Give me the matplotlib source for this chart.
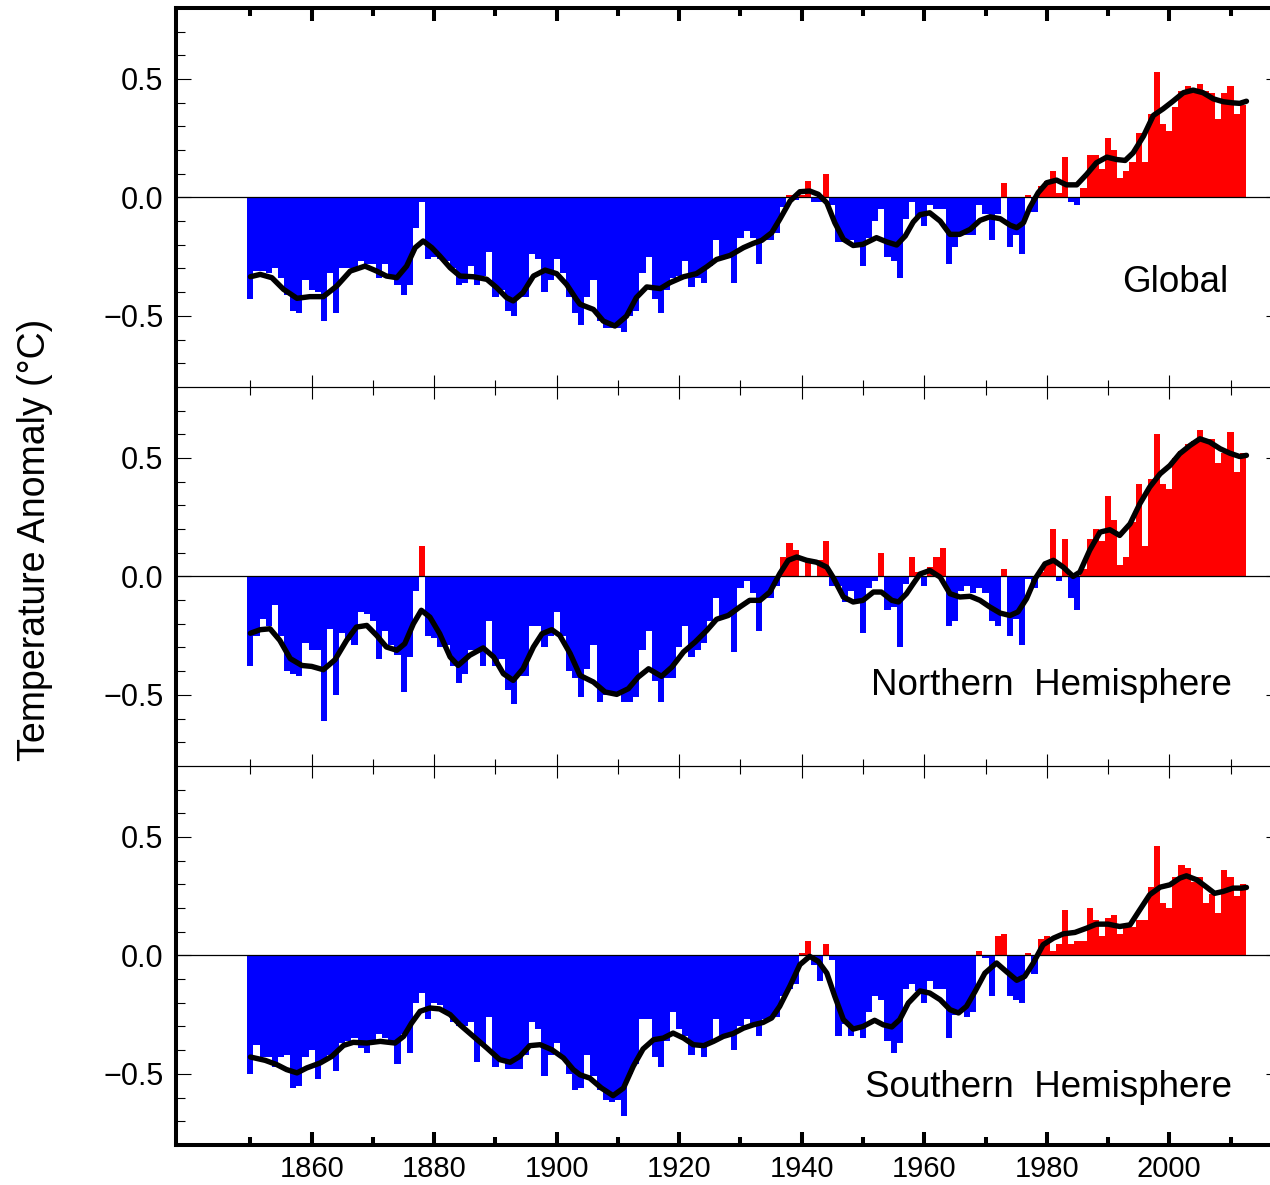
import numpy as np
import matplotlib
matplotlib.use("Agg")
import matplotlib.pyplot as plt
from matplotlib.ticker import FixedLocator

# ---------------- data ----------------
years = np.arange(1850, 2013)

global_anom = [
    -0.43, -0.31, -0.31, -0.32, -0.30, -0.34, -0.41, -0.48, -0.49, -0.35,
    -0.39, -0.40, -0.52, -0.32, -0.49, -0.30, -0.30, -0.31, -0.27, -0.28,
    -0.28, -0.34, -0.28, -0.33, -0.37, -0.41, -0.37, -0.13, -0.02, -0.26,
    -0.25, -0.26, -0.27, -0.30, -0.37, -0.36, -0.29, -0.37, -0.33, -0.23,
    -0.42, -0.39, -0.48, -0.50, -0.42, -0.42, -0.24, -0.26, -0.40, -0.35,
    -0.26, -0.32, -0.42, -0.49, -0.54, -0.42, -0.35, -0.52, -0.55, -0.55,
    -0.55, -0.57, -0.50, -0.48, -0.32, -0.25, -0.43, -0.49, -0.39, -0.34,
    -0.33, -0.27, -0.38, -0.34, -0.36, -0.29, -0.18, -0.25, -0.25, -0.36,
    -0.17, -0.14, -0.17, -0.28, -0.18, -0.18, -0.15, -0.04, 0.01, -0.01,
    0.01, 0.07, -0.02, -0.02, 0.10, -0.03, -0.19, -0.19, -0.18, -0.20,
    -0.29, -0.17, -0.10, -0.05, -0.25, -0.27, -0.34, -0.09, -0.02, -0.08,
    -0.12, -0.03, -0.05, -0.05, -0.28, -0.21, -0.16, -0.16, -0.16, -0.03,
    -0.07, -0.18, -0.07, 0.06, -0.21, -0.16, -0.24, 0.01, -0.06, 0.05,
    0.07, 0.11, 0.02, 0.17, -0.02, -0.03, 0.04, 0.18, 0.18, 0.12,
    0.25, 0.20, 0.08, 0.11, 0.15, 0.27, 0.15, 0.35, 0.53, 0.31,
    0.28, 0.38, 0.45, 0.47, 0.44, 0.48, 0.45, 0.44, 0.33, 0.44,
    0.47, 0.35, 0.39,
]

nh_anom = [
    -0.38, -0.25, -0.18, -0.21, -0.12, -0.25, -0.40, -0.41, -0.42, -0.28,
    -0.31, -0.31, -0.61, -0.22, -0.50, -0.24, -0.27, -0.29, -0.15, -0.16,
    -0.19, -0.35, -0.23, -0.29, -0.33, -0.49, -0.34, -0.06, 0.13, -0.25,
    -0.26, -0.30, -0.29, -0.38, -0.45, -0.41, -0.31, -0.31, -0.38, -0.19,
    -0.38, -0.35, -0.48, -0.54, -0.42, -0.42, -0.21, -0.21, -0.30, -0.25,
    -0.15, -0.25, -0.40, -0.43, -0.51, -0.39, -0.29, -0.53, -0.50, -0.50,
    -0.50, -0.53, -0.53, -0.51, -0.31, -0.23, -0.44, -0.53, -0.43, -0.43,
    -0.30, -0.21, -0.34, -0.31, -0.28, -0.19, -0.09, -0.17, -0.17, -0.32,
    -0.05, -0.02, -0.07, -0.23, -0.09, -0.09, -0.04, 0.08, 0.14, 0.11,
    0.00, 0.07, 0.00, 0.07, 0.15, -0.04, -0.04, -0.11, -0.06, -0.11,
    -0.24, -0.05, -0.02, 0.10, -0.14, -0.13, -0.30, -0.03, 0.08, 0.02,
    -0.04, 0.04, 0.08, 0.12, -0.21, -0.19, -0.06, -0.04, -0.07, -0.05,
    -0.07, -0.19, -0.21, 0.03, -0.25, -0.18, -0.29, -0.01, -0.05, 0.02,
    0.06, 0.20, -0.02, 0.16, -0.09, -0.14, 0.03, 0.16, 0.20, 0.15,
    0.34, 0.24, 0.05, 0.08, 0.23, 0.39, 0.13, 0.41, 0.60, 0.39,
    0.37, 0.50, 0.53, 0.56, 0.57, 0.62, 0.58, 0.58, 0.48, 0.52,
    0.61, 0.44, 0.52,
]

sh_anom = [
    -0.50, -0.38, -0.43, -0.43, -0.47, -0.43, -0.42, -0.56, -0.55, -0.43,
    -0.40, -0.52, -0.44, -0.42, -0.49, -0.37, -0.36, -0.35, -0.39, -0.41,
    -0.37, -0.33, -0.35, -0.36, -0.46, -0.33, -0.41, -0.20, -0.16, -0.27,
    -0.20, -0.21, -0.24, -0.28, -0.30, -0.30, -0.28, -0.45, -0.38, -0.26,
    -0.47, -0.45, -0.48, -0.48, -0.48, -0.42, -0.28, -0.31, -0.51, -0.42,
    -0.37, -0.43, -0.50, -0.57, -0.56, -0.42, -0.51, -0.57, -0.61, -0.62,
    -0.61, -0.68, -0.50, -0.46, -0.27, -0.27, -0.43, -0.47, -0.36, -0.24,
    -0.31, -0.34, -0.42, -0.38, -0.43, -0.37, -0.27, -0.35, -0.34, -0.40,
    -0.30, -0.27, -0.29, -0.34, -0.27, -0.27, -0.26, -0.17, -0.14, -0.12,
    0.01, 0.06, -0.04, -0.11, 0.05, -0.02, -0.34, -0.29, -0.34, -0.31,
    -0.35, -0.24, -0.17, -0.19, -0.36, -0.41, -0.37, -0.14, -0.12, -0.15,
    -0.20, -0.11, -0.14, -0.14, -0.35, -0.25, -0.23, -0.26, -0.24, 0.02,
    -0.01, -0.17, 0.08, 0.09, -0.17, -0.19, -0.20, 0.01, -0.08, 0.07,
    0.08, 0.02, 0.05, 0.19, 0.05, 0.06, 0.06, 0.20, 0.15, 0.08,
    0.16, 0.17, 0.09, 0.12, 0.12, 0.15, 0.15, 0.29, 0.46, 0.22,
    0.20, 0.33, 0.38, 0.37, 0.31, 0.33, 0.22, 0.26, 0.18, 0.36,
    0.33, 0.25, 0.30,
]

# smoothed curves
global_smooth_years = [
    1850.0, 1851.6, 1853.5, 1855.4, 1857.6, 1859.7, 1861.9, 1864.1, 1866.3, 1868.7,
    1870.6, 1872.2, 1873.9, 1875.5, 1876.9, 1878.2, 1879.6, 1880.9, 1882.6, 1884.2,
    1886.4, 1888.6, 1890.2, 1891.8, 1892.9, 1894.5, 1896.2, 1898.1, 1900.0, 1901.6,
    1903.2, 1903.8, 1906.0, 1907.6, 1909.5, 1911.4, 1913.0, 1914.7, 1916.9, 1918.5,
    1920.7, 1922.8, 1924.5, 1926.1, 1928.3, 1930.5, 1932.1, 1933.5, 1935.1, 1936.4,
    1938.1, 1939.7, 1941.3, 1942.7, 1944.1, 1945.4, 1946.8, 1948.4, 1950.0, 1952.2,
    1953.9, 1955.5, 1956.9, 1958.2, 1959.3, 1960.9, 1962.6, 1964.2, 1965.8, 1967.5,
    1969.1, 1970.7, 1972.4, 1974.0, 1975.1, 1976.2, 1977.2, 1978.6, 1980.0, 1981.6,
    1983.2, 1984.9, 1986.5, 1988.1, 1989.8, 1991.4, 1992.8, 1994.1, 1995.8, 1997.4,
    1999.0, 2000.6, 2002.3, 2003.9, 2005.5, 2007.2, 2008.8, 2010.4, 2011.5, 2012.6,
]
global_smooth = [
    -0.335, -0.325, -0.339, -0.388, -0.426, -0.419, -0.419, -0.374, -0.311, -0.290,
    -0.311, -0.332, -0.339, -0.290, -0.212, -0.184, -0.212, -0.247, -0.297, -0.332,
    -0.335, -0.346, -0.381, -0.423, -0.437, -0.402, -0.332, -0.307, -0.322, -0.367,
    -0.430, -0.451, -0.473, -0.522, -0.543, -0.501, -0.423, -0.378, -0.385, -0.360,
    -0.335, -0.322, -0.293, -0.262, -0.245, -0.212, -0.194, -0.181, -0.149, -0.093,
    -0.015, 0.024, 0.027, 0.013, -0.023, -0.107, -0.177, -0.203, -0.198, -0.170,
    -0.188, -0.201, -0.163, -0.104, -0.073, -0.065, -0.100, -0.156, -0.156, -0.135,
    -0.097, -0.082, -0.090, -0.117, -0.128, -0.107, -0.044, 0.020, 0.062, 0.073,
    0.053, 0.053, 0.097, 0.146, 0.170, 0.160, 0.156, 0.188, 0.259, 0.346,
    0.374, 0.406, 0.442, 0.453, 0.442, 0.416, 0.404, 0.399, 0.397, 0.406,
]

nh_smooth_years = [
    1850.0, 1851.6, 1853.2, 1854.8, 1856.5, 1858.4, 1860.0, 1861.9, 1863.8, 1865.7,
    1867.3, 1869.0, 1870.6, 1872.2, 1873.9, 1875.2, 1876.6, 1877.9, 1879.3, 1880.9,
    1882.6, 1883.9, 1885.8, 1888.0, 1889.7, 1891.3, 1892.9, 1894.5, 1896.2, 1897.6,
    1899.2, 1900.5, 1902.2, 1903.8, 1906.0, 1907.9, 1909.8, 1911.7, 1913.3, 1915.0,
    1917.1, 1918.8, 1920.7, 1922.6, 1924.5, 1926.1, 1928.0, 1929.9, 1931.5, 1933.2,
    1934.8, 1936.4, 1937.8, 1939.2, 1940.8, 1942.4, 1944.1, 1945.1, 1946.8, 1948.4,
    1950.0, 1951.7, 1953.0, 1954.7, 1955.8, 1957.1, 1958.2, 1959.3, 1960.9, 1962.6,
    1964.2, 1965.8, 1967.5, 1969.1, 1970.7, 1972.4, 1974.0, 1975.3, 1976.7, 1978.1,
    1979.7, 1981.1, 1982.7, 1984.3, 1985.4, 1987.0, 1988.7, 1990.3, 1991.9, 1993.6,
    1995.2, 1996.8, 1998.5, 2000.1, 2001.7, 2003.4, 2005.0, 2006.6, 2008.3, 2009.9,
    2011.5, 2012.6,
]
nh_smooth = [
    -0.240, -0.225, -0.221, -0.270, -0.347, -0.376, -0.380, -0.394, -0.352, -0.270,
    -0.214, -0.207, -0.249, -0.298, -0.312, -0.284, -0.200, -0.143, -0.172, -0.242,
    -0.340, -0.376, -0.333, -0.302, -0.340, -0.411, -0.439, -0.390, -0.298, -0.242,
    -0.225, -0.249, -0.326, -0.418, -0.446, -0.488, -0.498, -0.474, -0.425, -0.390,
    -0.422, -0.383, -0.319, -0.277, -0.228, -0.181, -0.165, -0.129, -0.101, -0.101,
    -0.066, 0.011, 0.068, 0.082, 0.068, 0.060, 0.039, -0.003, -0.087, -0.108,
    -0.101, -0.066, -0.066, -0.101, -0.108, -0.073, -0.031, 0.010, 0.025, -0.003,
    -0.073, -0.087, -0.084, -0.101, -0.129, -0.155, -0.165, -0.150, -0.094, -0.010,
    0.053, 0.068, 0.039, 0.000, 0.018, 0.110, 0.187, 0.197, 0.173, 0.222,
    0.307, 0.377, 0.433, 0.468, 0.518, 0.553, 0.581, 0.567, 0.539, 0.520,
    0.506, 0.511,
]

sh_smooth_years = [
    1850.0, 1852.4, 1854.3, 1855.9, 1857.6, 1859.2, 1861.4, 1863.3, 1865.2, 1866.8,
    1869.0, 1871.2, 1873.6, 1875.0, 1876.3, 1877.7, 1879.3, 1880.9, 1882.6, 1884.2,
    1886.4, 1888.6, 1890.7, 1892.4, 1894.0, 1895.6, 1897.3, 1899.2, 1901.1, 1902.7,
    1903.8, 1905.4, 1907.3, 1909.2, 1910.9, 1912.5, 1914.1, 1915.8, 1917.4, 1919.0,
    1920.7, 1922.3, 1924.0, 1925.6, 1927.2, 1928.8, 1930.5, 1932.1, 1933.7, 1935.1,
    1936.4, 1938.1, 1939.7, 1941.3, 1942.7, 1944.1, 1945.4, 1946.8, 1948.4, 1950.0,
    1951.9, 1953.3, 1954.7, 1956.0, 1957.4, 1958.7, 1959.3, 1960.9, 1962.6, 1964.2,
    1965.6, 1966.9, 1968.3, 1969.9, 1971.8, 1973.4, 1975.1, 1976.4, 1977.8, 1979.4,
    1981.1, 1982.7, 1984.6, 1986.5, 1988.1, 1990.0, 1991.9, 1993.6, 1995.2, 1996.8,
    1998.5, 2000.1, 2001.7, 2002.8, 2004.5, 2006.1, 2007.4, 2008.8, 2010.4, 2011.8,
    2012.6,
]
sh_smooth = [
    -0.429, -0.443, -0.461, -0.482, -0.496, -0.475, -0.454, -0.426, -0.380, -0.367,
    -0.370, -0.363, -0.370, -0.342, -0.286, -0.236, -0.222, -0.226, -0.250, -0.293,
    -0.342, -0.391, -0.440, -0.451, -0.426, -0.381, -0.377, -0.398, -0.433, -0.482,
    -0.504, -0.518, -0.560, -0.592, -0.560, -0.468, -0.395, -0.356, -0.349, -0.328,
    -0.349, -0.377, -0.381, -0.363, -0.342, -0.330, -0.307, -0.293, -0.283, -0.264,
    -0.215, -0.128, -0.039, -0.004, -0.025, -0.075, -0.173, -0.271, -0.311, -0.300,
    -0.274, -0.293, -0.302, -0.271, -0.201, -0.166, -0.150, -0.159, -0.187, -0.229,
    -0.243, -0.215, -0.152, -0.075, -0.032, -0.068, -0.105, -0.089, -0.032, 0.045,
    0.073, 0.091, 0.097, 0.115, 0.132, 0.132, 0.122, 0.129, 0.193, 0.256,
    0.288, 0.298, 0.326, 0.336, 0.319, 0.288, 0.262, 0.270, 0.284, 0.284,
    0.287,
]

panel_names = ["Global", "Northern  Hemisphere", "Southern  Hemisphere"]
x_major = [1860, 1880, 1900, 1920, 1940, 1960, 1980, 2000]
x_minor = [1850, 1870, 1890, 1910, 1930, 1950, 1970, 1990, 2010]
y_major = [-0.5, 0.0, 0.5]
y_major_labels = ["\u22120.5", "0.0", "0.5"]
y_minor = [-0.7, -0.6, -0.4, -0.3, -0.2, -0.1, 0.1, 0.2, 0.3, 0.4, 0.6, 0.7]
ylabel_text = "Temperature Anomaly (\u00b0C)"

# ---------------- figure ----------------
plt.rcParams["font.family"] = ["Liberation Sans", "DejaVu Sans"]
W, H = 1270.0, 1185.0
fig = plt.figure(figsize=(W / 100, H / 100), dpi=100)

left_px, right_px = 176.0, 1281.0
panel_h = 379.0
panel_tops = [7.9, 386.9, 765.9]
series = [
    (global_anom, global_smooth_years, global_smooth),
    (nh_anom, nh_smooth_years, nh_smooth),
    (sh_anom, sh_smooth_years, sh_smooth),
]
label_pos = [(1228, 292), (1232, 695), (1232, 1097)]

BLUE = "#0000ff"
RED = "#ff0000"
THICK = 2.9
THIN = 0.8

for i, (top, (anom, sy, sv)) in enumerate(zip(panel_tops, series)):
    ax = fig.add_axes([left_px / W, 1 - (top + panel_h) / H,
                       (right_px - left_px) / W, panel_h / H])
    ax.patch.set_visible(False)
    anom = np.asarray(anom)
    colors = [RED if v > 0 else BLUE for v in anom]
    ax.bar(years, anom, width=1.0, color=colors, linewidth=0, zorder=2)
    ax.axhline(0, color="black", lw=0.9, zorder=3)
    ax.plot(sy, sv, color="black", lw=3.9, solid_capstyle="round",
            solid_joinstyle="round", zorder=4)

    ax.set_xlim(1837.85, 2018.24)
    ax.set_ylim(-0.8, 0.8)

    # y axis
    ax.set_yticks(y_major, labels=y_major_labels)
    ax.yaxis.set_minor_locator(FixedLocator(y_minor))
    ax.tick_params(axis="y", which="major", direction="in", length=11,
                   width=THIN, left=True, right=True, labelsize=22, pad=9)
    ax.tick_params(axis="y", which="minor", direction="in", length=6.2,
                   width=THIN, left=True, right=True)

    # x axis
    ax.set_xticks(x_major)
    ax.xaxis.set_minor_locator(FixedLocator(x_minor))
    if i == 0:
        ax.tick_params(axis="x", which="both", top=True, bottom=False,
                       labelbottom=False, direction="in", width=THICK)
        ax.tick_params(axis="x", which="major", length=9.6)
        ax.tick_params(axis="x", which="minor", length=6.0)
    elif i == 1:
        ax.tick_params(axis="x", which="both", top=True, bottom=True,
                       labelbottom=False, direction="inout", width=THIN)
        ax.tick_params(axis="x", which="major", length=16.8)
        ax.tick_params(axis="x", which="minor", length=10.8)
    else:
        ax.tick_params(axis="x", which="both", top=False, bottom=True,
                       labelbottom=True, direction="in", width=THICK,
                       labelsize=21, pad=7.5)
        ax.tick_params(axis="x", which="major", length=9.6)
        ax.tick_params(axis="x", which="minor", length=6.0)

    # spines
    ax.spines["left"].set_linewidth(THICK)
    ax.spines["right"].set_linewidth(THICK)
    ax.spines["top"].set_linewidth(THICK if i == 0 else THIN)
    ax.spines["bottom"].set_linewidth(THICK if i == 2 else THIN)

    lx, ly = label_pos[i]
    fig.text(lx / W, 1 - ly / H, panel_names[i], ha="right", va="baseline",
             fontsize=26.5)

fig.text(35 / W, 1 - 540 / H, ylabel_text, rotation=90, ha="center",
         va="center", fontsize=27)

fig.savefig("out.png", dpi=100)
